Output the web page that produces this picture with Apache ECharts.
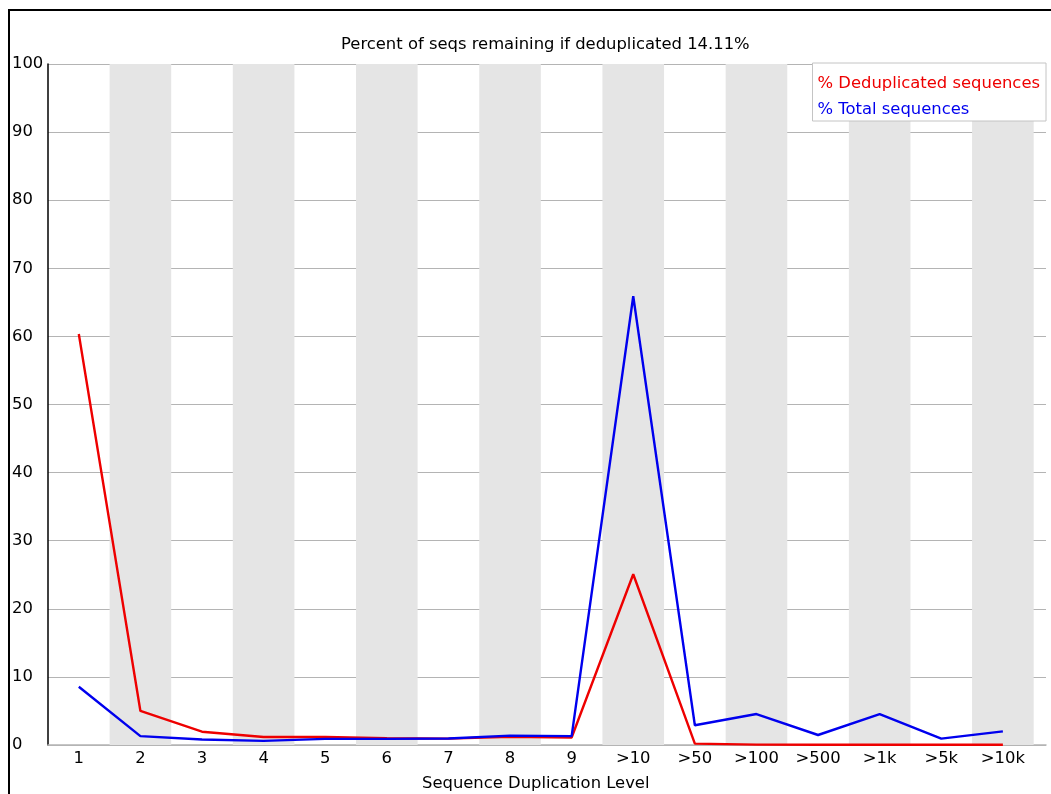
<!DOCTYPE html>
<html>
<head>
<meta charset="utf-8">
<script src="https://cdn.jsdelivr.net/npm/echarts@6/dist/echarts.min.js"></script>
<style>
html,body{margin:0;padding:0;background:#fff;}
#chart{width:1051px;height:794px;}
</style>
</head>
<body>
<div id="chart"></div>
<script>
const categories = ['1','2','3','4','5','6','7','8','9','>10','>50','>100','>500','>1k','>5k','>10k'];
const dedupValues = [60.35, 5.0, 1.95, 1.17, 1.2, 1.0, 0.93, 1.2, 1.1, 25.07, 0.2, 0.05, 0.04, 0.04, 0.03, 0.03];
const totalValues = [8.56, 1.3, 0.8, 0.6, 0.9, 0.9, 0.95, 1.37, 1.3, 65.9, 2.9, 4.55, 1.47, 4.55, 0.93, 2.0];
const yTicks = [0, 10, 20, 30, 40, 50, 60, 70, 80, 90, 100];
const titleText = 'Percent of seqs remaining if deduplicated 14.11%';
const xAxisTitle = 'Sequence Duplication Level';
const seriesNames = ['% Deduplicated sequences', '% Total sequences'];

const FONT = 'DejaVu Sans';
const FS = 16.4;
const toPairs = arr => arr.map((v, i) => [i + 1, v]);
const stripes = [];
for (let i = 2; i <= categories.length; i += 2) {
  stripes.push([{ xAxis: i - 0.5 }, { xAxis: i + 0.5 }]);
}

const chart = echarts.init(document.getElementById('chart'), null, { renderer: 'canvas' });
chart.setOption({
  animation: false,
  backgroundColor: '#fff',
  title: {
    text: titleText,
    left: 341, top: 37, padding: 0,
    textStyle: { fontFamily: FONT, fontSize: FS, fontWeight: 'normal', color: '#000' }
  },
  legend: {
    orient: 'vertical',
    right: 5, top: 63,
    padding: [13, 6, 3, 0],
    itemGap: 10,
    itemWidth: 0, itemHeight: 16,
    icon: 'none',
    backgroundColor: '#fff',
    borderColor: '#c4c4c4', borderWidth: 1,
    textStyle: { fontFamily: FONT, fontSize: FS },
    data: [
      { name: seriesNames[0], textStyle: { color: '#ee0000' } },
      { name: seriesNames[1], textStyle: { color: '#0000ee' } }
    ],
    selectedMode: false
  },
  grid: { left: 48, right: 5, top: 64, bottom: 49 },
  xAxis: {
    type: 'value', min: 0.5, max: 16.7,
    splitLine: { show: false },
    axisTick: { show: false },
    axisLine: { show: true, onZero: false, lineStyle: { color: '#b4b4b4', width: 1.5 } },
    axisLabel: {
      customValues: categories.map((c, i) => i + 1),
      formatter: v => categories[Math.round(v) - 1] || '',
      margin: 6, color: '#000', fontFamily: FONT, fontSize: FS
    }
  },
  yAxis: {
    type: 'value', min: yTicks[0], max: yTicks[yTicks.length - 1], interval: 10,
    axisLine: { show: true, onZero: false, lineStyle: { color: '#000', width: 1.5 } },
    axisTick: { show: false },
    splitLine: { show: true, lineStyle: { color: '#b4b4b4', width: 1.2 } },
    axisLabel: { align: 'left', margin: 36, padding: [4, 0, 0, 0], color: '#000', fontFamily: FONT, fontSize: FS }
  },
  graphic: [
    {
      type: 'rect', z: -10, silent: true,
      shape: { x: 9, y: 10, width: 1200, height: 1000 },
      style: { fill: 'none', stroke: '#000', lineWidth: 2 }
    },
    {
      type: 'text', left: 422, top: 776, silent: true,
      style: { text: xAxisTitle, fill: '#000', font: FS + 'px "DejaVu Sans"' }
    }
  ],
  series: [
    {
      name: 'stripes', type: 'line', data: [], z: -1, silent: true,
      markArea: { silent: true, itemStyle: { color: '#e5e5e5' }, data: stripes }
    },
    {
      name: seriesNames[0], type: 'line', data: toPairs(dedupValues),
      symbol: 'none', lineStyle: { color: '#ee0000', width: 2.4 }, itemStyle: { color: '#ee0000' }
    },
    {
      name: seriesNames[1], type: 'line', data: toPairs(totalValues),
      symbol: 'none', lineStyle: { color: '#0000ee', width: 2.4 }, itemStyle: { color: '#0000ee' }
    }
  ]
});
</script>
</body>
</html>
